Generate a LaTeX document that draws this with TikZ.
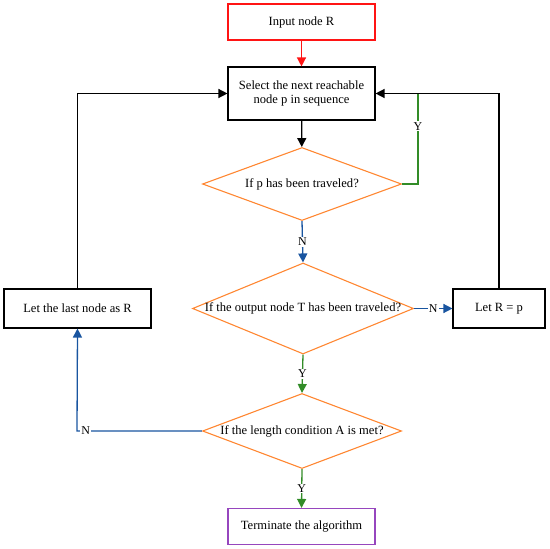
\documentclass[tikz,border=0pt]{standalone}
\usepackage{fontspec}
\setmainfont{Liberation Serif}
\usetikzlibrary{shapes.geometric,arrows.meta,positioning}
\definecolor{myred}{RGB}{255,20,20}
\definecolor{myorange}{RGB}{255,135,50}
\definecolor{myblue}{RGB}{25,85,160}
\definecolor{mygreen}{RGB}{50,140,40}
\definecolor{mypurple}{RGB}{150,70,190}
\tikzset{
  box/.style={draw, rectangle, line width=1.1bp, inner sep=0pt, align=center, font=\fontsize{12.6}{14.5}\selectfont},
  dia/.style={draw=myorange, diamond, line width=1.1bp, inner sep=0pt},
  dtext/.style={font=\fontsize{12.6}{14.5}\selectfont},
  arr/.style={line width=1.3bp, -{Triangle[length=9bp,width=9bp]}},
  lab/.style={fill=white, inner sep=1pt, font=\fontsize{12}{13}\selectfont},
}
\begin{document}
\begin{tikzpicture}[x=1bp,y=-1bp]
\useasboundingbox (0,0) rectangle (550,549);
% nodes
\node[box, draw=myred, minimum width=147bp, minimum height=36bp] (in) at (301.5,22) {Input node R};
\node[box, minimum width=147bp, minimum height=53bp] (sel) at (301.5,93.5) {Select the next reachable\\node p in sequence};
\node[dia, minimum width=199bp, minimum height=73bp] (d1) at (302,184) {};
\node[dtext] (t1) at (d1) {If p has been traveled?};
\node[dia, minimum width=221bp, minimum height=91bp] (d2) at (303,308.5) {};
\node[dtext] (t2) at (d2) {If the output node T has been traveled?};
\node[dia, minimum width=199bp, minimum height=75bp] (d3) at (302,431) {};
\node[dtext] (t3) at (d3) {If the length condition A is met?};
\node[box, minimum width=147bp, minimum height=39bp] (last) at (77.5,308.5) {Let the last node as R};
\node[box, minimum width=92bp, minimum height=39bp] (letr) at (499,308.5) {Let R = p};
\node[box, draw=mypurple, minimum width=147bp, minimum height=36bp] (term) at (301.5,526.5) {Terminate the algorithm};
\coordinate (gy) at (418,94);
\coordinate (nc) at (77,431);
% connectors
\draw[arr, myred] (in) -- (sel);
\draw[arr, black] (sel) -- (d1);
\draw[line width=1.3bp, mygreen] (d1.east) -| (gy) node[lab, pos=0.82, text=black] {Y};
\draw[arr, black] (letr.north) |- (sel.east);
\draw[arr, myblue] (d1.south) -- node[lab, pos=0.5, text=black] {N} (d2.north);
\draw[arr, myblue] (d2.east) -- node[lab, pos=0.5, text=black] {N} (letr.west);
\draw[arr, mygreen] (d2.south) -- node[lab, pos=0.5, text=black] {Y} (d3.north);
\draw[arr, mygreen] (d3.south) -- node[lab, pos=0.5, text=black] {Y} (term.north);
\draw[arr, myblue] (d3.west) -- (nc) node[lab, pos=0.93, text=black] {N} -- (last.south);
\draw[arr, black] (last.north) |- (sel.west);
\end{tikzpicture}
\end{document}
